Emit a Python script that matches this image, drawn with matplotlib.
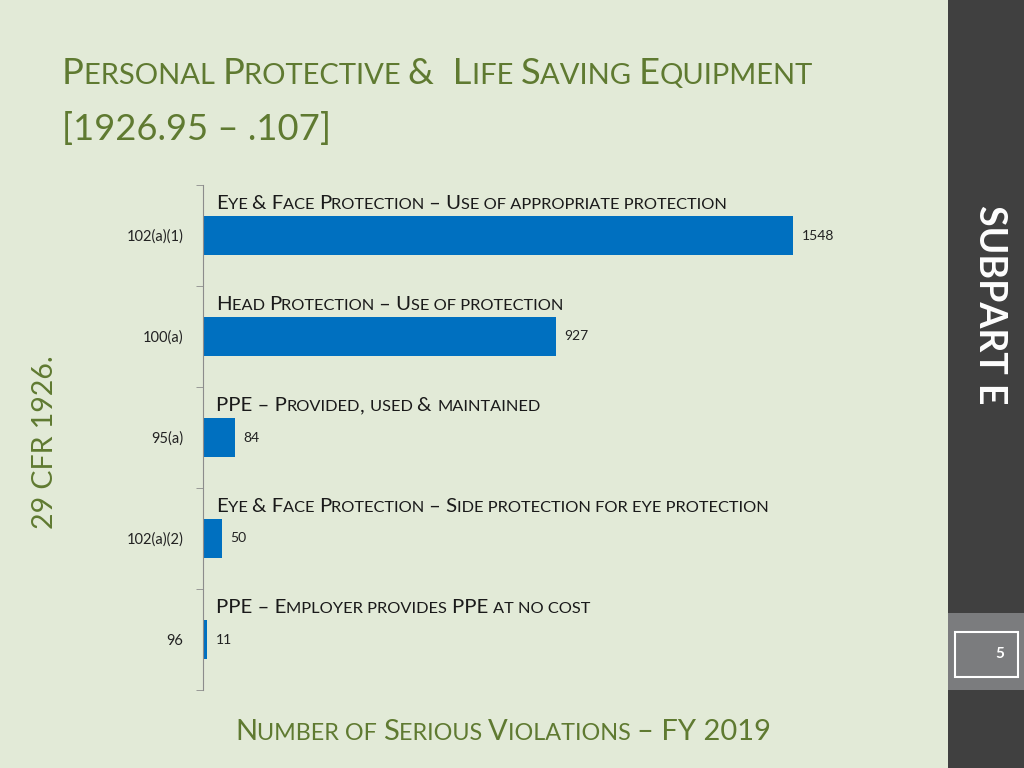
import matplotlib
matplotlib.use('Agg')
import matplotlib.pyplot as plt
from matplotlib.patches import Rectangle

# data
codes = ['102(a)(1)', '100(a)', '95(a)', '102(a)(2)', '96']
values = [1548, 927, 84, 50, 11]
descriptions = [
    'Eye & Face Protection – Use of appropriate protection',
    'Head Protection – Use of protection',
    'PPE – Provided, used & maintained',
    'Eye & Face Protection – Side protection for eye protection',
    'PPE – Employer provides PPE at no cost',
]
title_1 = 'Personal Protective &  Life Saving Equipment'
title_2 = '[1926.95 – .107]'
x_title = 'Number of Serious Violations – FY 2019'
side_label = '29 CFR 1926.'
section = 'SUBPART E'
page = '5'

bg = '#E2EAD7'
green = '#5F7A31'
blue = '#0070C0'
FONT = 'Lato'

plt.rcParams['font.family'] = [FONT, 'DejaVu Sans']

fig = plt.figure(figsize=(10.24, 7.68), dpi=100)
fig.patch.set_facecolor(bg)
W, H = 1024, 768
renderer = fig.canvas.get_renderer()


def smallcaps(x, y, s, size, color, ha='left', ratio=0.8):
    # x, y in pixels from bottom-left, y is the baseline
    runs = []
    for c in s:
        small = c.islower()
        if runs and runs[-1][1] == small:
            runs[-1][0] += c.upper()
        elif runs and c == ' ':
            runs[-1][0] += c
        else:
            runs.append([c.upper(), small])
    texts = []
    cx = x
    for txt, small in runs:
        t = fig.text(cx / W, y / H, txt, fontsize=size * ratio if small else size,
                     color=color, va='baseline', ha='left')
        texts.append(t)
        cx += t.get_window_extent(renderer).width
    if ha == 'center':
        shift = (cx - x) / 2
        for t in texts:
            px, py = t.get_position()
            t.set_x(px - shift / W)
    return texts


# axes
left, right, top, bottom = 203, 851, 185, 690
ax = fig.add_axes([left / W, 1 - bottom / H, (right - left) / W, (bottom - top) / H])
ax.set_facecolor('none')
ypos = list(range(len(values)))
ax.barh(ypos, values, height=0.39, color=blue)
ax.set_xlim(0, 1700)
ax.set_ylim(len(values) - 0.5, -0.5)
for s in ['top', 'right', 'bottom']:
    ax.spines[s].set_visible(False)
ax.spines['left'].set_color('#8C8C8C')
ax.set_xticks([])
ax.set_yticks(ypos)
ax.set_yticklabels(codes, fontsize=10.5, color='#222222')
ax.tick_params(axis='y', which='major', length=0, pad=14)
ax.set_yticks([i - 0.5 for i in range(len(values) + 1)], minor=True)
ax.tick_params(axis='y', which='minor', length=5, color='#8C8C8C')

for i, v in enumerate(values):
    ax.annotate(str(v), (v, i), xytext=(6, 0), textcoords='offset points',
                va='center', ha='left', fontsize=10, color='#222222')

# category descriptions above bars
for i, d in enumerate(descriptions):
    px, py = ax.transData.transform((0, i - 0.26))
    smallcaps(px + 13, py, d, 14.7, '#1a1a1a')

# title
smallcaps(62, H - 84, title_1, 26.2, green)
smallcaps(62, H - 140, title_2, 26.2, green)

# x title
smallcaps(503, H - 740, x_title, 21, green, ha='center')

# vertical side label
fig.text(45 / W, 1 - 442 / H, side_label, rotation=90, color=green, fontsize=20.5,
         ha='center', va='center')

# right sidebar
fig.patches.append(Rectangle((948 / W, 0), (W - 948) / W, 1, transform=fig.transFigure,
                             facecolor='#404040', edgecolor='none'))
fig.patches.append(Rectangle((948 / W, 1 - 690 / H), (W - 948) / W, 77 / H,
                             transform=fig.transFigure, facecolor='#7B7C7E', edgecolor='none'))
fig.patches.append(Rectangle((955 / W, 1 - 677 / H), 63 / W, 45 / H, transform=fig.transFigure,
                             facecolor='none', edgecolor='white', linewidth=1.5))
fig.text(1000 / W, 1 - 654 / H, page, color='white', fontsize=11, fontweight='bold',
         ha='center', va='center')
fig.text(990 / W, 1 - 305 / H, section, rotation=-90, color='white', fontsize=27,
         fontweight='bold', ha='center', va='center')

fig.savefig('out.png', dpi=100, facecolor=bg)
